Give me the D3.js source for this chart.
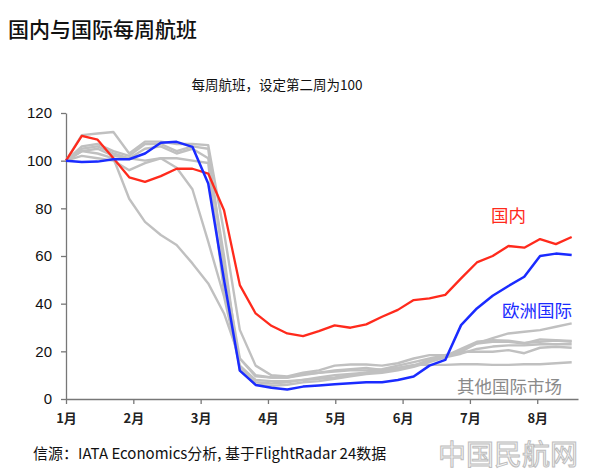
<!DOCTYPE html>
<html>
<head>
<meta charset="utf-8" />
<title>国内与国际每周航班</title>
<script src="https://d3js.org/d3.v7.min.js"></script>
<style>
	body { margin: 0; background: #fff; }
	text { font-family: "Noto Sans CJK SC", "Liberation Sans", sans-serif; }
</style>
</head>
<body>
<div id="chart"></div>
<script>
	// weekly flights, week 2 = 100 (one value per week, Jan -> Aug)
	var domestic = [100,110.4,108.8,101,93,91.1,93.5,96.6,96.6,94.6,79.2,47.8,35.9,30.7,27.5,26.4,28.5,30.9,29.9,31.3,34.5,37.4,41.5,42.2,43.7,50.6,57.3,60,64.2,63.5,67.1,65,68];
	var europe = [100,99.4,99.6,100.6,100.6,103,107.5,107.9,105.8,90.4,50,11.9,5.9,4.7,4.0,5.2,5.7,6.2,6.6,7.0,7.0,8.0,9.4,14.0,16.4,31,38,43.3,47.4,51.3,60,61,60.4];
	var otherA = [100,110.7,111.4,112,103,108,108,107,107,106.5,70,29,14,10,9.5,11,12,14,14.5,14.5,14,15,17,18.4,18.4,19.8,23.3,24,24,23.3,25,24.7,24.4];
	var otherB = [100,106,107,104,102,107,107,104,106,105,55,17,10,9,9,10.5,11,12,12.5,13,12.2,13,14,16.4,18,20.5,23.3,25.5,27.5,28.2,28.9,30.3,31.7];
	var otherC = [100,104,105,102,101,100,101,101,100,99,45,14,8,7.5,7.5,8,8.5,9,10,11,12.2,13,14.3,14.3,14.3,14.6,14.6,14.3,14.3,14.6,14.6,15,15.4];
	var otherD = [100,104,103,101,84,74.3,68.8,64.6,56.9,48.5,35.9,17,9.5,9,9,10,11,11.5,12,12,12.5,14,15.5,17,18.4,19.8,19.8,19.8,20.5,19.2,21.5,21.9,21.5];
	var otherE = [100,102,101,100,96,99,101,97,88,66,43,13.5,7,6.5,7,8,9,10,10.5,11,11.5,12.5,14,16,18,21,24,24.7,24.5,23.5,24,24.5,24];
	var otherF = [100,105,106,103,101,105,106,103,105,101,60,12,6,5.5,6,7,7.5,8.5,9.5,10.5,11,12,13.5,15.5,17.5,19,21,22,22.5,22.5,23,23,23];
	var others = [otherA, otherB, otherC, otherD, otherE, otherF];

	// month tick labels and where they sit on the week axis
	var months = ["1月","2月","3月","4月","5月","6月","7月","8月"];
	var monthWeeks = [0, 4.26, 8.52, 12.78, 17.04, 21.3, 25.56, 29.82];
	var yTicks = [0, 20, 40, 60, 80, 100, 120];

	var width = 600, height = 476;

	var svg = d3.select("#chart")
		.append("svg")
		.attr("width", width)
		.attr("height", height);

	// scales
	var x = d3.scaleLinear()
		.domain([0, 32.4])
		.range([66, 578]);

	var y = d3.scaleLinear()
		.domain([0, 120])
		.range([399, 113]);

	// titles
	svg.append("text")
		.attr("x", 8)
		.attr("y", 37)
		.style("font-size", "21px")
		.style("font-weight", 500)
		.style("fill", "#111")
		.text("国内与国际每周航班");

	svg.append("text")
		.attr("x", 277)
		.attr("y", 90)
		.attr("text-anchor", "middle")
		.style("font-size", "13.5px")
		.style("fill", "#111")
		.text("每周航班，设定第二周为100");

	// y axis
	var yAxis = svg.append("g")
		.attr("transform", "translate(" + x(0) + ",0)")
		.call(d3.axisLeft(y).tickValues(yTicks).tickSize(5).tickSizeOuter(0).tickPadding(9));
	yAxis.selectAll("text")
		.style("font-family", "'Liberation Sans', sans-serif")
		.style("font-size", "15px")
		.style("fill", "#111");

	// x axis
	var xAxis = svg.append("g")
		.attr("transform", "translate(0," + y(0) + ")")
		.call(d3.axisBottom(x)
			.tickValues(monthWeeks)
			.tickFormat(function(d, i) { return months[i]; })
			.tickSize(5).tickSizeOuter(0).tickPadding(10));
	xAxis.selectAll("text")
		.style("font-size", "13px")
		.style("font-weight", "bold")
		.style("fill", "#222");

	svg.selectAll(".domain, .tick line")
		.style("stroke", "#777")
		.style("stroke-width", 1.3);

	var line = d3.line()
		.x(function(d, i) { return x(i); })
		.y(function(d) { return y(d); });

	// other international markets (grey)
	svg.append("g")
		.selectAll("path")
		.data(others)
		.enter()
		.append("path")
		.attr("d", line)
		.attr("fill", "none")
		.attr("stroke", "#c0c0c0")
		.attr("stroke-width", 2.4)
		.attr("stroke-linejoin", "round");

	svg.append("path")
		.attr("d", line(domestic))
		.attr("fill", "none")
		.attr("stroke", "#ff2a1c")
		.attr("stroke-width", 2.3)
		.attr("stroke-linejoin", "round");

	svg.append("path")
		.attr("d", line(europe))
		.attr("fill", "none")
		.attr("stroke", "#1a2bff")
		.attr("stroke-width", 2.5)
		.attr("stroke-linejoin", "round");

	// series labels
	svg.append("text")
		.attr("x", 491)
		.attr("y", 222)
		.style("font-size", "17.5px")
		.style("fill", "#ff2a1c")
		.text("国内");

	svg.append("text")
		.attr("x", 502)
		.attr("y", 317)
		.style("font-size", "17.5px")
		.style("fill", "#1a2bff")
		.text("欧洲国际");

	svg.append("text")
		.attr("x", 457)
		.attr("y", 393)
		.style("font-size", "17.5px")
		.style("fill", "#8a8a8a")
		.text("其他国际市场");

	// source
	svg.append("text")
		.attr("x", 33)
		.attr("y", 459)
		.style("font-size", "15px")
		.style("fill", "#111")
		.text("信源：IATA Economics分析, 基于FlightRadar 24数据");

	// watermark
	svg.append("text")
		.attr("x", 578)
		.attr("y", 465)
		.attr("text-anchor", "end")
		.style("font-size", "28px")
		.style("fill", "#f4f4f4")
		.style("stroke", "#bdbdbd")
		.style("stroke-width", 1)
		.text("中国民航网");
</script>
</body>
</html>
